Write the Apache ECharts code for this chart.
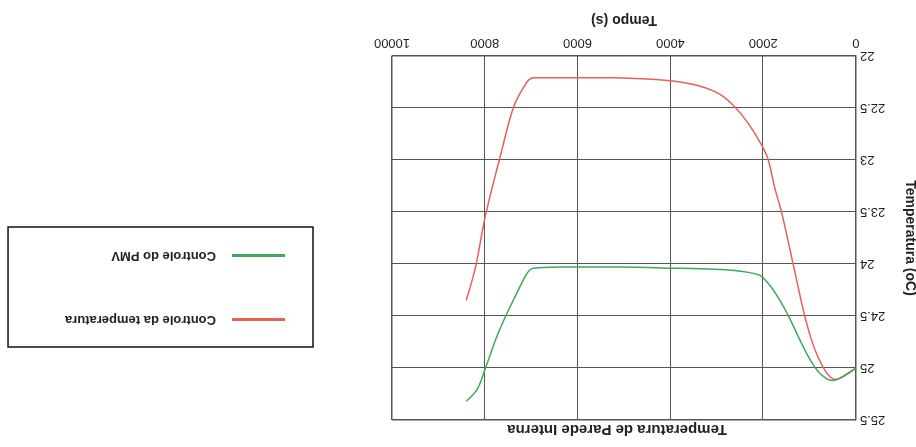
<!DOCTYPE html>
<html>
<head>
<meta charset="utf-8">
<script src="https://cdn.jsdelivr.net/npm/echarts@6/dist/echarts.min.js"></script>
<style>
  html, body { margin: 0; padding: 0; background: #fff; }
  /* the scanned figure is upside down, so the whole chart is turned 180deg */
  #wrap { width: 916px; height: 447px; transform: rotate(180deg); }
  #chart { width: 916px; height: 447px; }
</style>
</head>
<body>
<div id="wrap"><div id="chart"></div></div>
<script>
// Controle da temperatura (red)
const redTime = [0, 240, 450, 630, 880, 1100, 1350, 1600, 1750, 1890, 2030, 2320, 2610, 2930, 3360, 3790, 4510, 5230, 6020, 6950, 7090, 7380, 7670, 7990, 8200, 8400];
const redTemp = [25.0, 25.07, 25.11, 25.05, 24.83, 24.51, 24.01, 23.51, 23.27, 23.0, 22.86, 22.65, 22.49, 22.37, 22.29, 22.25, 22.22, 22.21, 22.21, 22.21, 22.25, 22.49, 22.97, 23.54, 24.03, 24.35];

// Controle do PMV (green)
const greenTime = [0, 130, 345, 520, 780, 990, 1210, 1420, 1640, 1850, 2070, 2500, 3070, 4020, 5230, 6380, 6950, 7090, 7310, 7560, 7770, 8000, 8170, 8400];
const greenTemp = [25.0, 25.04, 25.10, 25.12, 25.05, 24.92, 24.73, 24.53, 24.35, 24.21, 24.11, 24.07, 24.05, 24.04, 24.03, 24.03, 24.04, 24.09, 24.28, 24.51, 24.73, 25.02, 25.21, 25.32];

const xTicks = [0, 2000, 4000, 6000, 8000, 10000];
const yTicks = [22, 22.5, 23, 23.5, 24, 24.5, 25, 25.5];

const seriesNames = ['Controle da temperatura', 'Controle do PMV'];

const zip = (a, b) => a.map((v, i) => [v, b[i]]);

const myChart = echarts.init(document.getElementById('chart'));

const option = {
    backgroundColor: '#fff',
    animation: false,
    textStyle: { fontFamily: 'Liberation Sans, Arial, sans-serif' },
    title: {
        text: 'Temperatura de Parede Interna',
        left: 184,
        top: 5,
        textStyle: { fontSize: 15, fontWeight: 'bold', color: '#222' }
    },
    grid: {
        left: 60,
        top: 27,
        width: 464,
        height: 364,
        containLabel: false,
        outerBoundsMode: 'none',
        show: true,
        borderColor: '#555',
        borderWidth: 1
    },
    legend: {
        orient: 'vertical',
        left: 603,
        top: 100,
        data: seriesNames,
        icon: 'rect',
        itemWidth: 53,
        itemHeight: 3,
        itemGap: 51,
        padding: [21, 57, 22, 28],
        borderColor: '#111',
        borderWidth: 1.5,
        textStyle: { fontSize: 13, fontWeight: 'bold', color: '#222', padding: [0, 0, 0, 11] }
    },
    xAxis: {
        type: 'value',
        min: xTicks[0],
        max: xTicks[xTicks.length - 1],
        interval: 2000,
        name: 'Tempo (s)',
        nameLocation: 'middle',
        nameGap: 29,
        nameTextStyle: { fontSize: 14, fontWeight: 'bold', color: '#222' },
        axisLine: { show: true, lineStyle: { color: '#555' } },
        axisTick: { show: true, inside: true, length: 4, lineStyle: { color: '#555' } },
        axisLabel: { fontSize: 13, color: '#222', margin: 7, formatter: v => String(v) },
        splitLine: { show: true, lineStyle: { color: '#555', width: 1 } }
    },
    yAxis: {
        type: 'value',
        min: yTicks[0],
        max: yTicks[yTicks.length - 1],
        interval: 0.5,
        name: 'Temperatura (oC)',
        nameLocation: 'middle',
        nameRotate: 90,
        nameGap: 47,
        nameTextStyle: { fontSize: 14, fontWeight: 'bold', color: '#222' },
        axisLine: { show: true, lineStyle: { color: '#555' } },
        axisTick: { show: true, inside: true, length: 4, lineStyle: { color: '#555' } },
        axisLabel: { fontSize: 13, color: '#222', margin: 4 },
        splitLine: { show: true, lineStyle: { color: '#555', width: 1 } }
    },
    series: [
        {
            name: seriesNames[0],
            type: 'line',
            data: zip(redTime, redTemp),
            smooth: 0.3,
            showSymbol: false,
            lineStyle: { width: 1.5, color: '#e8605a' },
            itemStyle: { color: '#e8605a' }
        },
        {
            name: seriesNames[1],
            type: 'line',
            data: zip(greenTime, greenTemp),
            smooth: 0.3,
            showSymbol: false,
            lineStyle: { width: 1.5, color: '#3fa85a' },
            itemStyle: { color: '#3fa85a' }
        }
    ]
};

myChart.setOption(option);
</script>
</body>
</html>
